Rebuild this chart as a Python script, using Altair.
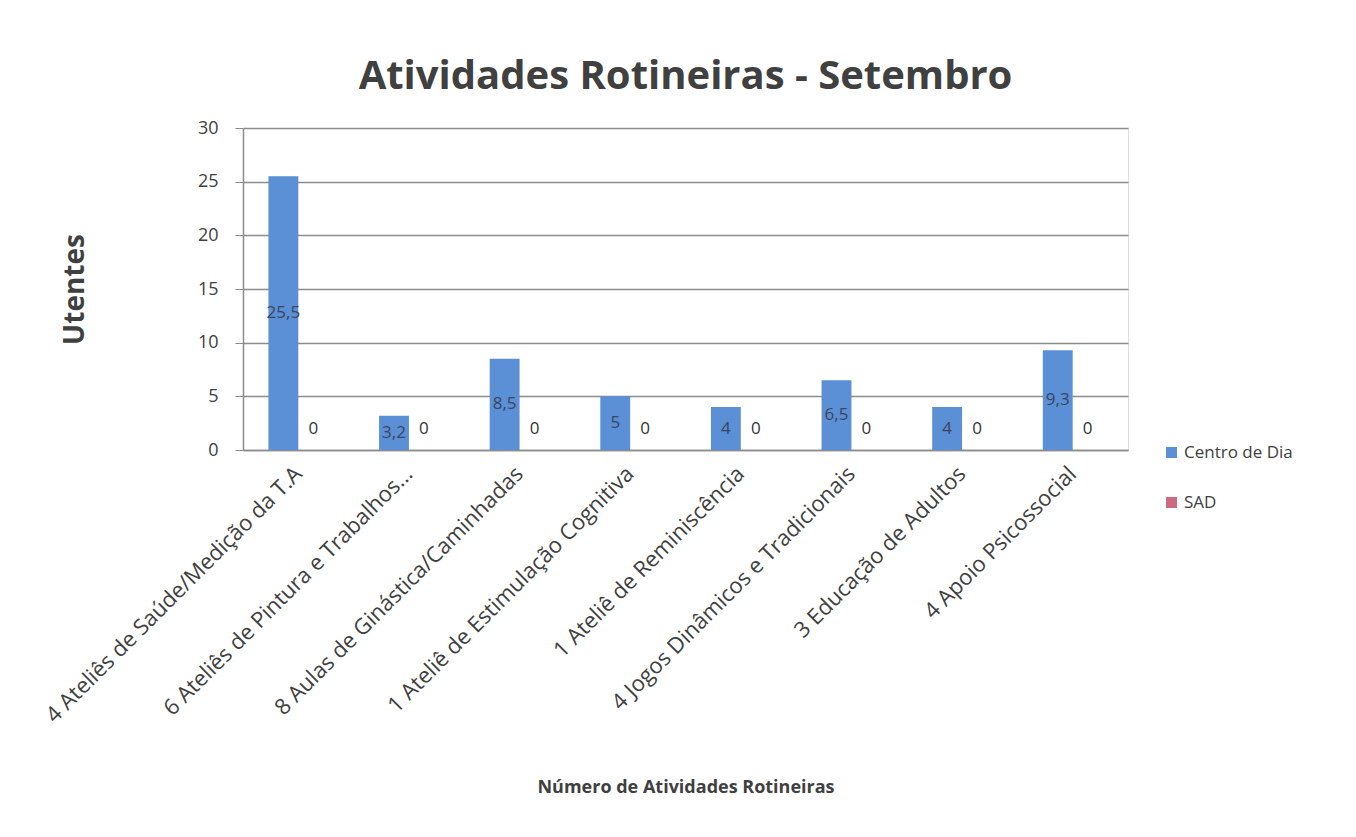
import altair as alt
import pandas as pd

categorias = [
    "4 Ateliês de Saúde/Medição da T.A",
    "6 Ateliês de Pintura e Trabalhos...",
    "8 Aulas de Ginástica/Caminhadas",
    "1 Ateliê de Estimulação Cognitiva",
    "1 Ateliê de Reminiscência",
    "4 Jogos Dinâmicos e Tradicionais",
    "3 Educação de Adultos",
    "4 Apoio Psicossocial",
]
centro_de_dia = [25.5, 3.2, 8.5, 5, 4, 6.5, 4, 9.3]
sad = [0, 0, 0, 0, 0, 0, 0, 0]
series = ["Centro de Dia", "SAD"]
cores = ["#5b8fd6", "#cc6b80"]
y_ticks = [0, 5, 10, 15, 20, 25, 30]

rows = []
for i, cat in enumerate(categorias):
    rows.append({"categoria": cat, "serie": series[0], "valor": centro_de_dia[i]})
    rows.append({"categoria": cat, "serie": series[1], "valor": sad[i]})
df = pd.DataFrame(rows)

FONT = "Open Sans"
TXT = "#404040"

base = alt.Chart(df).transform_calculate(
    meio="datum.valor / 2",
    rotulo="replace(toString(datum.valor), '.', ',')",
)

x_axis = alt.Axis(
    title="Número de Atividades Rotineiras",
    titleFont=FONT, titleFontSize=18, titleFontWeight="bold", titleColor=TXT,
    titleY=328,
    labelAngle=-45, labelAlign="right", labelBaseline="middle",
    labelFont=FONT, labelFontSize=22, labelColor=TXT, labelPadding=20,
    labelLimit=700,
    ticks=False, domainColor="#8c8c8c", domainWidth=1.5,
)
y_axis = alt.Axis(
    title="Utentes", titleFont=FONT, titleFontSize=28, titleFontWeight="bold",
    titleColor=TXT, titlePadding=108,
    values=y_ticks, labelFont=FONT, labelFontSize=18, labelColor=TXT,
    labelPadding=17, tickSize=8, tickColor="#8c8c8c", domainColor="#8c8c8c",
    gridColor="#8c8c8c", gridWidth=1.5, domainWidth=1.5,
)
y_scale = alt.Scale(domain=[0, 30])

x_enc = alt.X(
    "categoria:N",
    sort=categorias,
    scale=alt.Scale(paddingInner=0.46, paddingOuter=0.23),
    axis=x_axis,
)
xoff = alt.XOffset("serie:N", sort=series)

bars = base.mark_bar().encode(
    x=x_enc,
    xOffset=xoff,
    y=alt.Y("valor:Q", scale=y_scale, axis=y_axis),
    color=alt.Color(
        "serie:N",
        scale=alt.Scale(domain=series, range=cores),
        legend=alt.Legend(
            title=None, orient="none", legendX=920, legendY=316,
            symbolType="square", symbolSize=120, symbolStrokeWidth=0,
            labelFont=FONT, labelFontSize=17, labelColor=TXT, rowPadding=32,
        ),
    ),
)

lab_centro = base.transform_filter(alt.datum.serie == series[0]).mark_text(
    font=FONT, fontSize=17, color="#3a4660", baseline="middle"
).encode(
    x=x_enc,
    xOffset=xoff,
    y=alt.Y("meio:Q", scale=y_scale, axis=y_axis),
    text="rotulo:N",
)

lab_sad = base.transform_filter(alt.datum.serie == series[1]).mark_text(
    font=FONT, fontSize=17, color="#333333", baseline="middle", dy=-21
).encode(
    x=x_enc,
    xOffset=xoff,
    y=alt.Y("valor:Q", scale=y_scale, axis=y_axis),
    text="rotulo:N",
)

chart = alt.layer(bars, lab_centro, lab_sad).properties(
    width=885,
    height=322,
    title=alt.TitleParams(
        "Atividades Rotineiras - Setembro", font=FONT, fontSize=40, fontWeight="bold",
        color=TXT, anchor="middle", frame="group", offset=22,
    ),
    padding={"left": 33, "top": 49, "right": 10, "bottom": 10},
).configure_view(strokeWidth=0).configure(background="white")

chart.save("out.html", embed_options={"renderer": "svg", "actions": False})
